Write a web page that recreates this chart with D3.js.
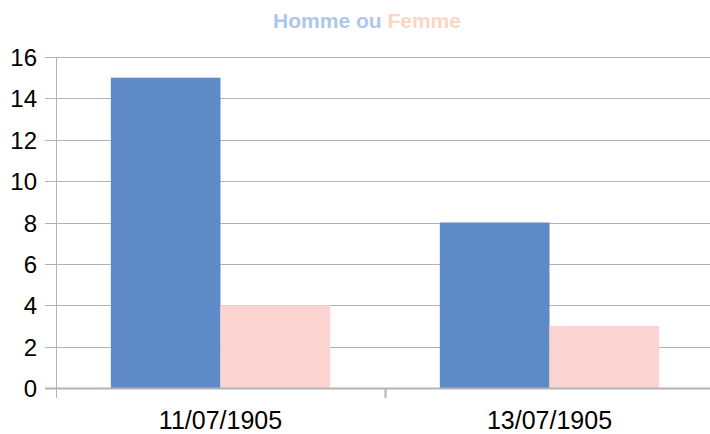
<!DOCTYPE html>
<html>
<head>
<meta charset="utf-8">
<script src="https://cdn.jsdelivr.net/npm/d3@7"></script>
<style>
  body { margin: 0; background: #fff; }
  text { font-family: "Liberation Sans", Arial, sans-serif; }
</style>
</head>
<body>
<div id="chart"></div>
<script>
// données
const dates = ["11/07/1905", "13/07/1905"];
const series = ["Homme", "Femme"];
const homme = [15, 8];
const femme = [4, 3];
const yTicks = [0, 2, 4, 6, 8, 10, 12, 14, 16];
const colors = ["#5e8ac7", "#fbd4d2"];

const width = 710, height = 434;
const margin = { top: 57, right: -4, bottom: 46, left: 56 };

const svg = d3.select("#chart").append("svg")
    .attr("width", width)
    .attr("height", height);

const x = d3.scaleBand()
    .domain(dates)
    .range([margin.left, width - margin.right]);

const xInner = d3.scaleBand()
    .domain(series)
    .range([0, x.bandwidth()])
    .paddingOuter(0.5);

const y = d3.scaleLinear()
    .domain([0, 16])
    .range([height - margin.bottom, margin.top]);

// grille
svg.append("g")
    .selectAll("line")
    .data(yTicks)
    .join("line")
    .attr("x1", margin.left - 11)
    .attr("x2", width)
    .attr("y1", d => Math.round(y(d)) + 0.5)
    .attr("y2", d => Math.round(y(d)) + 0.5)
    .attr("stroke", "#b3b3b3")
    .attr("stroke-width", 1);

// barres
const rows = dates.map((d, i) => ({ date: d, values: [homme[i], femme[i]] }));
svg.append("g")
    .selectAll("g")
    .data(rows)
    .join("g")
    .attr("transform", d => `translate(${x(d.date)},0)`)
    .selectAll("rect")
    .data(d => d.values.map((v, j) => ({ key: series[j], value: v, idx: j })))
    .join("rect")
    .attr("x", d => xInner(d.key))
    .attr("width", xInner.bandwidth())
    .attr("y", d => y(d.value))
    .attr("height", d => y(0) - y(d.value))
    .attr("fill", d => colors[d.idx]);

// axe vertical
svg.append("line")
    .attr("x1", margin.left + 0.5).attr("x2", margin.left + 0.5)
    .attr("y1", y(16)).attr("y2", y(0) + 10)
    .attr("stroke", "#b3b3b3");

// ligne de base
svg.append("line")
    .attr("x1", margin.left - 11).attr("x2", width)
    .attr("y1", Math.round(y(0)) + 0.5).attr("y2", Math.round(y(0)) + 0.5)
    .attr("stroke", "#b3b3b3")
    .attr("stroke-width", 2);

// graduations entre catégories
svg.append("g")
    .selectAll("line")
    .data(dates.slice(1))
    .join("line")
    .attr("x1", d => Math.round(x(d)) + 0.5)
    .attr("x2", d => Math.round(x(d)) + 0.5)
    .attr("y1", y(0))
    .attr("y2", y(0) + 10)
    .attr("stroke", "#b3b3b3")
    .attr("stroke-width", 2);

// étiquettes Y
svg.append("g")
    .selectAll("text")
    .data(yTicks)
    .join("text")
    .attr("x", 37)
    .attr("y", d => y(d) + 9)
    .attr("text-anchor", "end")
    .attr("font-size", 24)
    .attr("fill", "#000")
    .text(d => d);

// étiquettes X
svg.append("g")
    .selectAll("text")
    .data(dates)
    .join("text")
    .attr("x", d => x(d) + x.bandwidth() / 2)
    .attr("y", 429)
    .attr("text-anchor", "middle")
    .attr("font-size", 25)
    .attr("fill", "#000")
    .text(d => d);

// titre
const title = svg.append("text")
    .attr("x", 367)
    .attr("y", 28)
    .attr("text-anchor", "middle")
    .attr("font-size", 21)
    .attr("font-weight", "bold");
title.append("tspan").attr("fill", "#aec6ec").text("Homme ou ");
title.append("tspan").attr("fill", "#fdd5c4").text("Femme");
</script>
</body>
</html>
